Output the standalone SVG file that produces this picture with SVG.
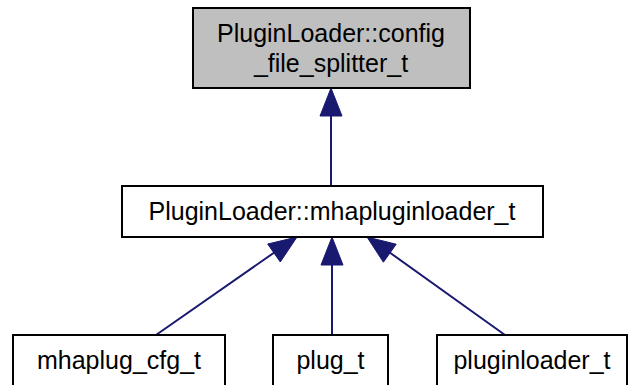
<svg xmlns="http://www.w3.org/2000/svg" width="630" height="385" viewBox="0 0 630 385">
<style>
.box{fill:#fff;stroke:#000;stroke-width:2}
.hl{fill:#bfbfbf}
text{font-family:"Liberation Sans",Arial,sans-serif;font-size:25px;fill:#000;text-anchor:middle}
.edge{stroke:#191970;stroke-width:2;fill:none}
.head{fill:#191970;stroke:#191970;stroke-width:1}
</style>
<rect width="630" height="385" fill="#fff"/>
<g id="edges">
<line class="edge" x1="331" y1="186" x2="331" y2="114"/>
<polygon class="head" points="331,88 320,116 342,116"/>
<line class="edge" x1="156" y1="335" x2="275" y2="252"/>
<polygon class="head" points="297,237 280.3,262 267.7,244"/>
<line class="edge" x1="332" y1="335" x2="332" y2="263"/>
<polygon class="head" points="332,237 321,265 343,265"/>
<line class="edge" x1="505" y1="335" x2="389" y2="252"/>
<polygon class="head" points="367,237 396.2,244.2 383.4,262.2"/>
</g>
<g id="config_file_splitter_t">
<rect class="box hl" x="193" y="8" width="277" height="80"/>
<text x="331" y="42">PluginLoader::config</text>
<text x="331" y="72">_file_splitter_t</text>
</g>
<g id="mhapluginloader_t">
<rect class="box" x="122" y="186" width="421" height="51"/>
<text x="332" y="220">PluginLoader::mhapluginloader_t</text>
</g>
<g id="mhaplug_cfg_t">
<rect class="box" x="13" y="335" width="212" height="51"/>
<text x="119" y="369">mhaplug_cfg_t</text>
</g>
<g id="plug_t">
<rect class="box" x="273" y="335" width="115" height="51"/>
<text x="330.5" y="369">plug_t</text>
</g>
<g id="pluginloader_t">
<rect class="box" x="437" y="335" width="190" height="51"/>
<text x="532" y="369">pluginloader_t</text>
</g>
</svg>
